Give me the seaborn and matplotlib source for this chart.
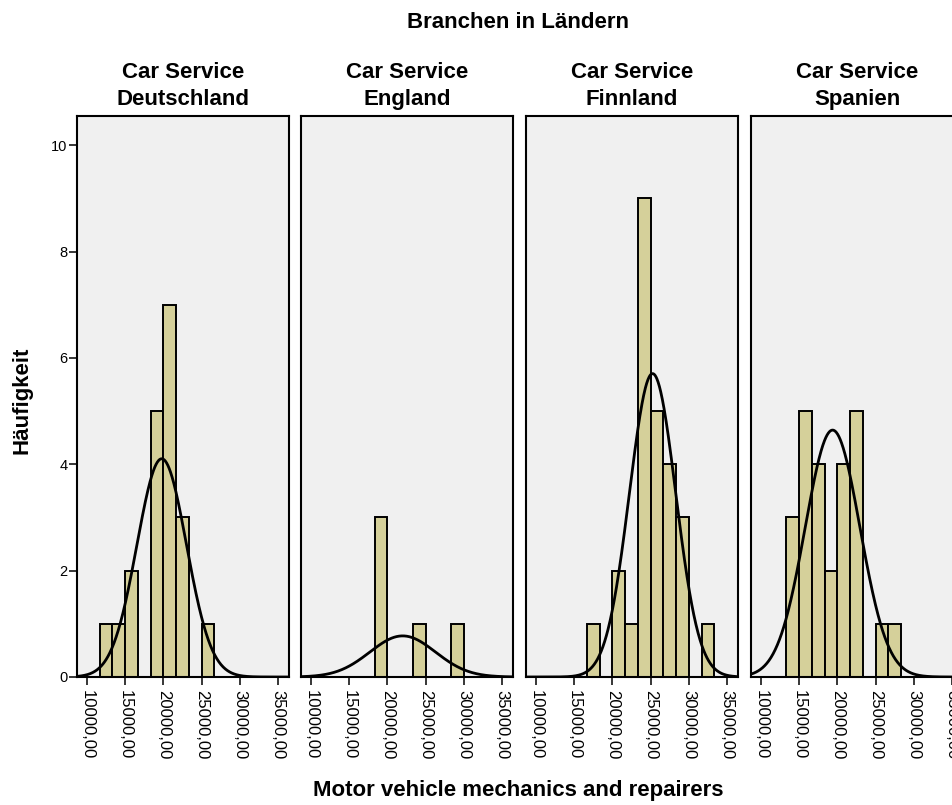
import numpy as np
import pandas as pd
import matplotlib
matplotlib.use("Agg")
import matplotlib.pyplot as plt
import seaborn as sns

sns.set_style("white")
plt.rcParams['font.family'] = ['Liberation Sans', 'DejaVu Sans']
plt.rcParams['text.color'] = 'black'
plt.rcParams['xtick.color'] = 'black'
plt.rcParams['ytick.color'] = 'black'

# panel titles
countries = ["Deutschland", "England", "Finnland", "Spanien"]

# histogram bins: 15 bins of width 5000/3 starting at 10000
bin_start = 10000
bin_width = 5000 / 3
n_bins = 15

# counts per bin
counts_de = [0, 1, 1, 2, 0, 5, 7, 3, 0, 1, 0, 0, 0, 0, 0]
counts_en = [0, 0, 0, 0, 0, 3, 0, 0, 1, 0, 0, 1, 0, 0, 0]
counts_fi = [0, 0, 0, 0, 1, 0, 2, 1, 9, 5, 4, 3, 0, 1, 0]
counts_es = [0, 0, 3, 5, 4, 2, 4, 5, 0, 1, 1, 0, 0, 0, 0]

# mean and std dev of the fitted normal curves
means = [19780, 22000, 25260, 19370]
sds = [3240, 4300, 3030, 3580]

x_ticks = [10000, 15000, 20000, 25000, 30000, 35000]
x_tick_labels = ["10000,00", "15000,00", "20000,00", "25000,00", "30000,00", "35000,00"]
y_ticks = [0, 2, 4, 6, 8, 10]

all_counts = [counts_de, counts_en, counts_fi, counts_es]

edges = bin_start + bin_width * np.arange(n_bins + 1)
centers = (edges[:-1] + edges[1:]) / 2

bar_color = "#D5D09A"
W, H = 953, 805
fig = plt.figure(figsize=(W / 100, H / 100), dpi=100)

lefts = [77, 301, 526, 751]
top, bottom, width = 116, 677, 212
xlim = (8690, 36440)

for i, (name, cnt) in enumerate(zip(countries, all_counts)):
    ax = fig.add_axes([lefts[i] / W, 1 - bottom / H, width / W, (bottom - top) / H])
    ax.set_facecolor("#F0F0F0")
    d = pd.DataFrame({"wage": centers, "n": cnt})
    d = d[d["n"] > 0]
    sns.histplot(data=d, x="wage", weights="n", binwidth=bin_width,
                 binrange=(edges[0], edges[-1]), ax=ax, color=bar_color,
                 edgecolor="black", linewidth=1.4, alpha=1)
    # drop the empty bins so they don't leave marks on the axis
    for p in ax.patches:
        if p.get_height() == 0:
            p.set_visible(False)
    # normal curve
    n = sum(cnt)
    xs = np.linspace(xlim[0], xlim[1], 500)
    ys = n * bin_width * np.exp(-0.5 * ((xs - means[i]) / sds[i]) ** 2) / (sds[i] * np.sqrt(2 * np.pi))
    ax.plot(xs, ys, color="black", lw=2)

    ax.set_xlim(*xlim)
    ax.set_ylim(0, 10.55)
    ax.set_xlabel("")
    ax.set_ylabel("")
    ax.set_xticks(x_ticks)
    ax.set_xticklabels(x_tick_labels, rotation=270, fontsize=12)
    ax.tick_params(axis="x", direction="out", length=6, width=1.1, color="black", pad=3, bottom=True)
    if i == 0:
        ax.set_yticks(y_ticks)
        ax.set_yticklabels([str(v) for v in y_ticks], fontsize=10.5)
        ax.tick_params(axis="y", direction="out", length=6, width=1.1, color="black", pad=1, left=True)
    else:
        ax.set_yticks([])
    for sp in ax.spines.values():
        sp.set_visible(True)
        sp.set_color("black")
        sp.set_linewidth(1.5)
    ax.set_title("Car Service\n" + name, fontsize=16, fontweight="bold", pad=8,
                 linespacing=1.35, color="black")

fig.text(518 / W, 1 - 22 / H, "Branchen in Ländern", ha="center", va="center",
         fontsize=16, fontweight="bold")
fig.text(518 / W, 1 - 790 / H, "Motor vehicle mechanics and repairers", ha="center", va="center",
         fontsize=16, fontweight="bold")
fig.text(22 / W, 1 - 400 / H, "Häufigkeit", ha="center", va="center", rotation=90,
         fontsize=16, fontweight="bold")

fig.savefig("out.png", dpi=100)
